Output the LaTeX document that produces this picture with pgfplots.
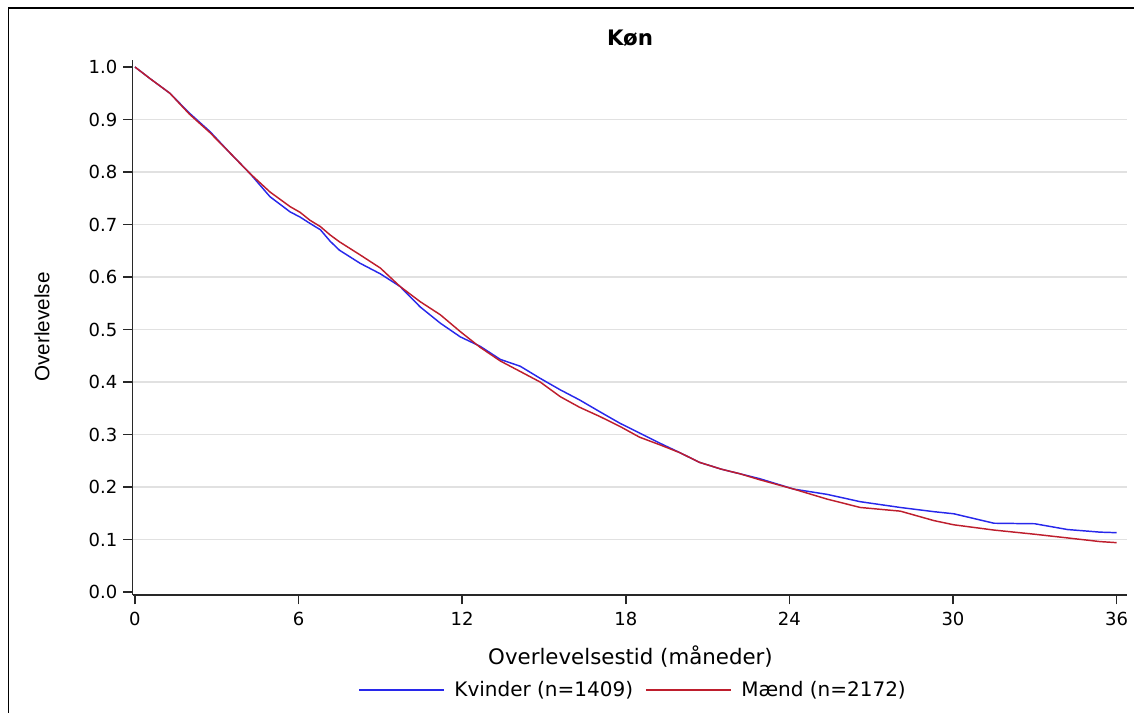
\documentclass[border=0pt]{standalone}
\usepackage{fontspec}
\setmainfont{DejaVu Sans}
\newfontfamily\ylabfont{Liberation Sans}
\usepackage{pgfplots}
\pgfplotsset{compat=1.18}
\definecolor{kblue}{RGB}{40,40,235}
\definecolor{mred}{RGB}{190,30,45}
\definecolor{gridc}{RGB}{225,225,225}
\definecolor{axc}{RGB}{40,40,40}
\begin{document}
\begin{tikzpicture}
\useasboundingbox (0,0) rectangle (850.5pt,534.75pt);
\draw[black, line width=1.3pt] (6.3pt,0pt) -- (6.3pt,528.5pt) -- (850.5pt,528.5pt);
\begin{axis}[
  at={(99.5pt,88.5pt)}, anchor=south west,
  scale only axis, width=745.7pt, height=401.25pt,
  xmin=-0.084, xmax=36.38, ymin=-0.0057, ymax=1.0133,
  axis x line=bottom, axis y line=left,
  axis line style={-, axc, line width=1.1pt},
  tick align=outside, major tick length=7pt,
  tick style={axc, line width=1.1pt},
  xtick={0,6,...,36}, ytick={0,0.1,...,1.0},
  yticklabel style={/pgf/number format/fixed, /pgf/number format/fixed zerofill, /pgf/number format/precision=1, xshift=-1pt},
  /pgf/number format/assume math mode=true,
  ticklabel style={font=\fontsize{13.5}{15}\selectfont, text=black},
  xticklabel style={yshift=-2pt},
  extra y ticks={0.1,0.2,0.3,0.4,0.5,0.6,0.7,0.8,0.9},
  extra y tick labels={},
  extra y tick style={major tick length=0pt, ymajorgrids=true, major grid style={gridc, line width=1.1pt}},
  legend columns=2,
  legend style={draw=none, fill=none, at={(axis description cs:0.5036,-0.1776)}, anchor=center,
    font=\fontsize{15}{17}\selectfont,
    /tikz/every even column/.append style={column sep=7pt}},
  legend image code/.code={\draw[#1] (0pt,0pt) -- (64pt,0pt);},
]
\addplot[kblue, line width=1.1pt] coordinates {
(0,1.0) (0.55,0.978) (1.28,0.95) (2.0,0.912) (2.75,0.877) (3.49,0.836) (4.22,0.797) (4.95,0.753)
(5.69,0.724) (6.06,0.714) (6.42,0.702) (6.8,0.690) (7.16,0.668) (7.5,0.651) (8.26,0.626) (9.0,0.606)
(9.72,0.582) (10.46,0.543) (11.2,0.512) (11.93,0.486) (12.66,0.468) (13.4,0.443) (14.13,0.430)
(14.86,0.407) (15.6,0.385) (16.3,0.366) (17.06,0.343) (17.8,0.321) (18.5,0.303) (19.27,0.283)
(20.0,0.265) (20.7,0.247) (21.5,0.234) (22.2,0.225) (22.9,0.216) (24.16,0.196) (25.38,0.186)
(26.6,0.172) (28.07,0.161) (29.3,0.153) (30.03,0.149) (31.5,0.131) (33.0,0.130) (34.2,0.119)
(35.4,0.114) (36.0,0.113)
};
\addlegendentry{\hspace{5pt}Kvinder (n=1409)}
\addplot[mred, line width=1.1pt] coordinates {
(0,1.0) (0.55,0.978) (1.28,0.95) (2.0,0.91) (2.75,0.875) (3.49,0.836) (4.22,0.797) (4.95,0.762)
(5.69,0.734) (6.06,0.723) (6.42,0.708) (6.8,0.696) (7.16,0.680) (7.5,0.667) (8.26,0.642) (9.0,0.617)
(9.72,0.582) (10.46,0.553) (11.2,0.528) (11.93,0.496) (12.66,0.466) (13.4,0.440) (14.13,0.420)
(14.86,0.400) (15.6,0.372) (16.3,0.352) (17.06,0.334) (17.8,0.315) (18.5,0.295) (19.27,0.280)
(20.0,0.265) (20.7,0.247) (21.5,0.234) (22.2,0.225) (22.9,0.214) (24.16,0.196) (25.38,0.177)
(26.6,0.161) (28.07,0.154) (29.3,0.136) (30.03,0.128) (31.5,0.118) (33.0,0.110) (34.2,0.103)
(35.4,0.096) (36.0,0.094)
};
\addlegendentry{\hspace{5pt}Mænd (n=2172)}
\end{axis}
\node[font=\fontsize{16}{18}\selectfont\bfseries] at (472.5pt,506.25pt) {Køn};
\node[font=\fontsize{16}{18}\selectfont] at (472.9pt,42pt) {Overlevelsestid (måneder)};
\node[font=\ylabfont\fontsize{15.5}{17}\selectfont, rotate=90] at (31.5pt,289.5pt) {Overlevelse};
\end{tikzpicture}
\end{document}
